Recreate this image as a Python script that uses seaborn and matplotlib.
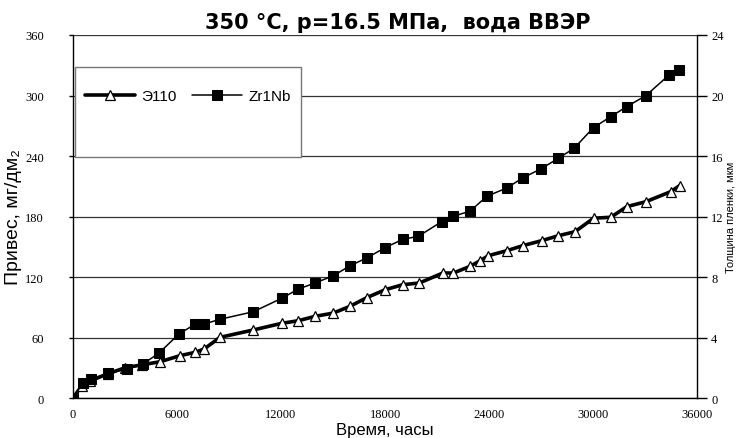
import numpy as np
import pandas as pd
import matplotlib
matplotlib.use('Agg')
import matplotlib.pyplot as plt
from matplotlib.patches import Rectangle
import seaborn as sns

# Data
t_e110 = [0, 500, 1000, 2000, 3000, 4000, 5020, 6170, 7040, 7560, 8480, 10400,
          12040, 13000, 13960, 15020, 15980, 16940, 18000, 19020, 19980, 21330,
          21940, 22900, 23480, 23960, 25020, 25940, 27040, 28000, 28960, 30020,
          31020, 31940, 33040, 34480, 34980]
w_e110 = [0, 12, 17, 24, 30, 33, 36, 42, 45.3, 48.6, 60.2, 67.5,
          74.1, 76.7, 81.0, 84.3, 91.0, 99.5, 107.4, 112.4, 114.1, 124.0,
          124.0, 130.6, 136.2, 141.2, 146.1, 151.1, 156.1, 161.0, 165.0, 178.3,
          179.3, 189.8, 194.7, 204.7, 210.6]

t_zr = [0, 560, 1020, 2000, 3100, 4020, 4940, 6130, 7040, 7560, 8480, 10400,
        12040, 13000, 13960, 15020, 15980, 16940, 18000, 19020, 19920, 21270,
        21940, 22900, 23870, 25020, 25940, 26980, 28000, 28900, 30020, 31020,
        31940, 33040, 34380, 34940]
w_zr = [0, 14.6, 18.8, 24.5, 28.8, 33.6, 44.3, 63.8, 73.1, 73.4, 78.1, 85.6,
        98.9, 108.1, 114.1, 121.3, 131.2, 138.9, 149.1, 157.4, 160.4, 175.0,
        180.3, 185.3, 200.1, 208.3, 218.3, 227.2, 237.8, 247.7, 268.2, 279.1,
        289.0, 299.9, 320.4, 325.7]

x_ticks = [0, 6000, 12000, 18000, 24000, 30000, 36000]
y_ticks = [0, 60, 120, 180, 240, 300, 360]
y2_ticks = [0, 4, 8, 12, 16, 20, 24]

df_e = pd.DataFrame({'t': t_e110, 'w': w_e110})
df_z = pd.DataFrame({'t': t_zr, 'w': w_zr})

sns.set_style('white')
plt.rcParams['font.family'] = ['Liberation Sans', 'DejaVu Sans']
plt.rcParams['text.color'] = 'black'
plt.rcParams['axes.labelcolor'] = 'black'
plt.rcParams['xtick.color'] = 'black'
plt.rcParams['ytick.color'] = 'black'

fig = plt.figure(figsize=(7.37, 4.39), dpi=100)
ax = fig.add_axes([0.099, 0.091, 0.847, 0.827])

sns.lineplot(data=df_e, x='t', y='w', ax=ax, color='black', lw=2.6,
             marker='^', markersize=7, markerfacecolor='white',
             markeredgecolor='black', markeredgewidth=0.9, label='Э110', zorder=3)
sns.lineplot(data=df_z, x='t', y='w', ax=ax, color='black', lw=1.1,
             marker='s', markersize=7, markerfacecolor='black',
             markeredgecolor='black', label='Zr1Nb', zorder=4)

ax.set_xlim(0, 36000)
ax.set_ylim(0, 360)
ax.set_xticks(x_ticks)
ax.set_yticks(y_ticks)
ax.set_xticklabels([str(v) for v in x_ticks], family='Liberation Serif', fontsize=9)
ax.set_yticklabels([str(v) for v in y_ticks], family='Liberation Serif', fontsize=9)
ax.tick_params(axis='x', direction='out', length=4, width=1, pad=3)
ax.tick_params(axis='y', direction='out', length=3, width=1, pad=18)
ax.yaxis.grid(True, color='#333333', lw=0.9)
ax.xaxis.grid(False)
for s in ['left', 'bottom']:
    ax.spines[s].set_color('black')
    ax.spines[s].set_linewidth(1)
ax.spines['top'].set_visible(False)
ax.spines['right'].set_visible(False)

ax.set_xlabel('')
fig.text(385 / 737, 1 / 439, 'Время, часы', fontsize=12,
         ha='center', va='bottom')
ax.set_ylabel('Привес, мг/дм₂', fontsize=14, labelpad=2)
ax.set_title('350 °C, p=16.5 МПа,  вода ВВЭР', fontsize=15, fontweight='bold',
             family='DejaVu Sans', pad=5, x=0.52)

ax2 = ax.twinx()
ax2.set_ylim(0, 24)
ax2.set_yticks(y2_ticks)
ax2.set_yticklabels([str(v) for v in y2_ticks], family='Liberation Serif', fontsize=9)
ax2.tick_params(axis='y', direction='out', length=7, width=1, pad=3)
for s in ['left', 'top', 'bottom']:
    ax2.spines[s].set_visible(False)
ax2.spines['right'].set_color('black')
ax2.spines['right'].set_linewidth(1)
ax2.set_ylabel('Толщина пленки, мкм', fontsize=8, labelpad=2)
ax2.grid(False)

# legend box
ax.add_patch(Rectangle((0.003, 0.664), 0.362, 0.248, transform=ax.transAxes,
                       facecolor='white', edgecolor='#777777', lw=1, zorder=5))
leg = ax.legend(loc='center', bbox_to_anchor=(0.184, 0.832), ncol=2, frameon=False,
                fontsize=11, handlelength=3.3, columnspacing=1.0, handletextpad=0.4)
leg.set_zorder(6)

fig.savefig('out.png', dpi=100)
